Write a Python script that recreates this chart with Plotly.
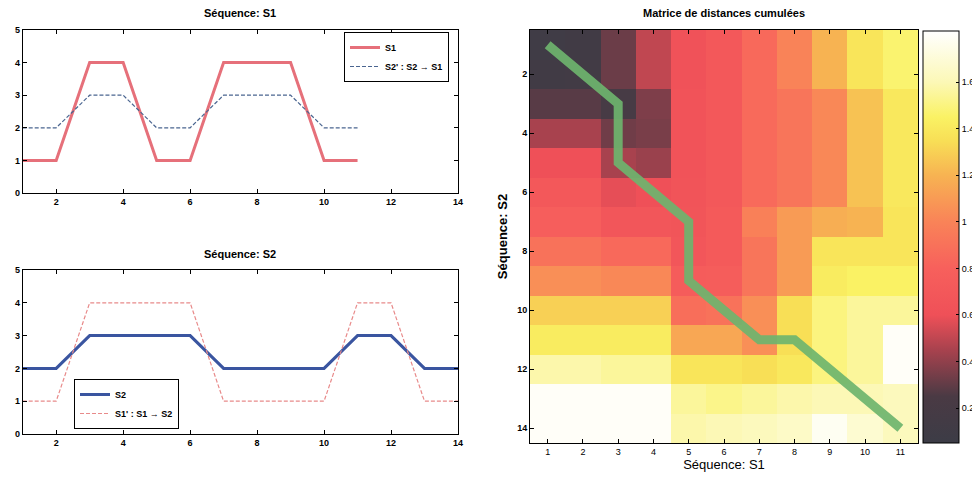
import plotly.graph_objects as go

# ---- data ----
x_s1 = [1, 2, 3, 4, 5, 6, 7, 8, 9, 10, 11]
s1 = [1, 1, 4, 4, 1, 1, 4, 4, 4, 1, 1]
s2_warped = [2, 2, 3, 3, 2, 2, 3, 3, 3, 2, 2]

x_s2 = [1, 2, 3, 4, 5, 6, 7, 8, 9, 10, 11, 12, 13, 14]
s2 = [2, 2, 3, 3, 3, 3, 2, 2, 2, 2, 3, 3, 2, 2]
s1_warped = [1, 1, 4, 4, 4, 4, 1, 1, 1, 1, 4, 4, 1, 1]

cost_matrix = [
    [0.10, 0.12, 0.32, 0.50, 0.63, 0.70, 0.85, 1.00, 1.20, 1.38, 1.47],
    [0.12, 0.13, 0.32, 0.50, 0.63, 0.70, 0.86, 1.00, 1.20, 1.38, 1.47],
    [0.28, 0.28, 0.20, 0.36, 0.64, 0.70, 0.86, 0.92, 1.02, 1.25, 1.40],
    [0.45, 0.45, 0.33, 0.35, 0.64, 0.70, 0.86, 0.92, 1.02, 1.25, 1.40],
    [0.60, 0.60, 0.45, 0.42, 0.64, 0.70, 0.86, 0.92, 1.02, 1.25, 1.40],
    [0.70, 0.70, 0.58, 0.60, 0.65, 0.70, 0.86, 0.92, 1.02, 1.25, 1.40],
    [0.78, 0.78, 0.68, 0.68, 0.66, 0.72, 0.98, 1.10, 1.18, 1.20, 1.38],
    [0.90, 0.90, 0.85, 0.85, 0.68, 0.72, 0.92, 1.10, 1.38, 1.38, 1.38],
    [1.05, 1.05, 1.02, 1.02, 0.75, 0.76, 0.92, 1.10, 1.42, 1.45, 1.45],
    [1.30, 1.30, 1.30, 1.30, 0.88, 0.90, 1.05, 1.35, 1.50, 1.55, 1.55],
    [1.42, 1.42, 1.42, 1.42, 1.15, 1.15, 1.05, 1.35, 1.50, 1.55, 1.80],
    [1.58, 1.58, 1.55, 1.55, 1.38, 1.38, 1.35, 1.40, 1.50, 1.55, 1.80],
    [1.80, 1.80, 1.80, 1.80, 1.55, 1.52, 1.55, 1.58, 1.60, 1.60, 1.62],
    [1.80, 1.80, 1.80, 1.80, 1.58, 1.60, 1.62, 1.65, 1.78, 1.68, 1.62],
]
path_s1 = [1, 2, 3, 3, 3, 4, 5, 5, 5, 6, 7, 8, 9, 10, 11]
path_s2 = [1, 2, 3, 4, 5, 6, 7, 8, 9, 10, 11, 11, 12, 13, 14]

zmin, zmax = 0.05, 1.82
cb_ticks = [0.2, 0.4, 0.6, 0.8, 1.0, 1.2, 1.4, 1.6]
cb_labels = ["0.2", "0.4", "0.6", "0.8", "1", "1.2", "1.4", "1.6"]


def nz(v):
    return (v - zmin) / (zmax - zmin)


colorscale = [
    [0.0, "#3c3c46"],
    [nz(0.25), "#4a3a44"],
    [nz(0.45), "#a8424e"],
    [nz(0.60), "#ef5058"],
    [nz(0.80), "#f7605c"],
    [nz(1.00), "#f98358"],
    [nz(1.20), "#f7b352"],
    [nz(1.35), "#f8df56"],
    [nz(1.45), "#faf264"],
    [nz(1.60), "#fcf8b6"],
    [1.0, "#ffffff"],
]

# page body has an 8px default margin: size the figure to fit and convert
# window pixel positions to figure fractions
OFF = 8
W, H = 980 - OFF, 483 - OFF
ML, MR, MT, MB = 12, 30, 12, 12
PW, PH = W - ML - MR, H - MT - MB


def fx(px):
    return (px - OFF - ML) / PW


def fy(py):
    return 1 - (py - OFF - MT) / PH


FONT = "Liberation Sans, Arial, sans-serif"
TICKFONT_B = dict(size=9, family=FONT, color="#000", weight="bold")
TICKFONT = dict(size=9, family=FONT, color="#000")

fig = go.Figure()

# top-left
fig.add_trace(go.Scatter(x=x_s1, y=s1, mode="lines", name="<b>S1</b>",
                         line=dict(color="#e6707a", width=3), xaxis="x", yaxis="y",
                         legend="legend"))
fig.add_trace(go.Scatter(x=x_s1, y=s2_warped, mode="lines", name="<b>S2' : S2 → S1</b>",
                         line=dict(color="#4a6590", width=1.2, dash="4px,2px"), xaxis="x", yaxis="y",
                         legend="legend"))
# bottom-left
fig.add_trace(go.Scatter(x=x_s2, y=s2, mode="lines", name="<b>S2</b>",
                         line=dict(color="#3a55a0", width=3), xaxis="x2", yaxis="y2",
                         legend="legend2"))
fig.add_trace(go.Scatter(x=x_s2, y=s1_warped, mode="lines", name="<b>S1' : S1 → S2</b>",
                         line=dict(color="#e88a8a", width=1.2, dash="4px,2px"), xaxis="x2", yaxis="y2",
                         legend="legend2"))
# heatmap
fig.add_trace(go.Heatmap(z=cost_matrix, x=x_s1, y=x_s2, zmin=zmin, zmax=zmax,
                         colorscale=colorscale, xaxis="x3", yaxis="y3", showscale=True,
                         colorbar=dict(x=fx(923), xanchor="left", xpad=0, ypad=0,
                                       y=fy(443), yanchor="bottom",
                                       len=(443 - 31) / PH, lenmode="fraction", thickness=36,
                                       thicknessmode="pixels", outlinecolor="#000", outlinewidth=1,
                                       tickvals=cb_ticks, ticktext=cb_labels, ticks="inside",
                                       ticklen=3, tickcolor="#000", tickfont=TICKFONT)))
fig.add_trace(go.Scatter(x=path_s1, y=path_s2, mode="lines", showlegend=False,
                         line=dict(color="rgba(110,180,110,0.92)", width=9),
                         xaxis="x3", yaxis="y3"))

axis_base = dict(showline=True, linecolor="#000", linewidth=1, mirror="allticks",
                 ticks="inside", ticklen=4, tickcolor="#000", showgrid=False, zeroline=False,
                 automargin=False)
axis_left = dict(tickfont=TICKFONT_B, **axis_base)
axis_right = dict(tickfont=TICKFONT, **axis_base)

legend_common = dict(xanchor="left", yanchor="top", bordercolor="#000", borderwidth=1,
                     bgcolor="white", font=dict(size=9, family=FONT, color="#000"),
                     tracegroupgap=0, itemwidth=30)

fig.update_layout(
    width=W, height=H, margin=dict(l=ML, r=MR, t=MT, b=MB, autoexpand=False),
    paper_bgcolor="white", plot_bgcolor="white",
    font=dict(family=FONT, color="#000"),
    xaxis=dict(domain=[fx(22.7), fx(458)], range=[1, 14], tickvals=[2, 4, 6, 8, 10, 12, 14],
               anchor="y", **axis_left),
    yaxis=dict(domain=[fy(193), fy(30)], range=[0, 5], tickvals=[0, 1, 2, 3, 4, 5],
               anchor="x", **axis_left),
    xaxis2=dict(domain=[fx(22.7), fx(458)], range=[1, 14], tickvals=[2, 4, 6, 8, 10, 12, 14],
                anchor="y2", **axis_left),
    yaxis2=dict(domain=[fy(434), fy(270)], range=[0, 5], tickvals=[0, 1, 2, 3, 4, 5],
                anchor="x2", **axis_left),
    xaxis3=dict(domain=[fx(530), fx(918)], range=[0.5, 11.5], tickvals=x_s1,
                anchor="y3", title=dict(text="Séquence: S1", font=dict(size=13, family=FONT), standoff=4),
                **axis_right),
    yaxis3=dict(domain=[fy(443), fy(30)], range=[14.5, 0.5],
                tickvals=[2, 4, 6, 8, 10, 12, 14], anchor="x3",
                title=dict(text="<b>Séquence: S2</b>", font=dict(size=13, family=FONT), standoff=6),
                **axis_left),
    legend=dict(x=fx(344), y=fy(32), **legend_common),
    legend2=dict(x=fx(74), y=fy(379), **legend_common),
    annotations=[
        dict(text="<b>Séquence: S1</b>", x=fx(240), y=fy(13), xref="paper", yref="paper",
             xanchor="center", yanchor="middle", showarrow=False, font=dict(size=11, family=FONT)),
        dict(text="<b>Séquence: S2</b>", x=fx(240), y=fy(254), xref="paper", yref="paper",
             xanchor="center", yanchor="middle", showarrow=False, font=dict(size=11, family=FONT)),
        dict(text="<b>Matrice de distances cumulées</b>", x=fx(724), y=fy(13),
             xref="paper", yref="paper", xanchor="center", yanchor="middle", showarrow=False,
             font=dict(size=11, family=FONT)),
    ],
)

fig.write_html("out.html")
